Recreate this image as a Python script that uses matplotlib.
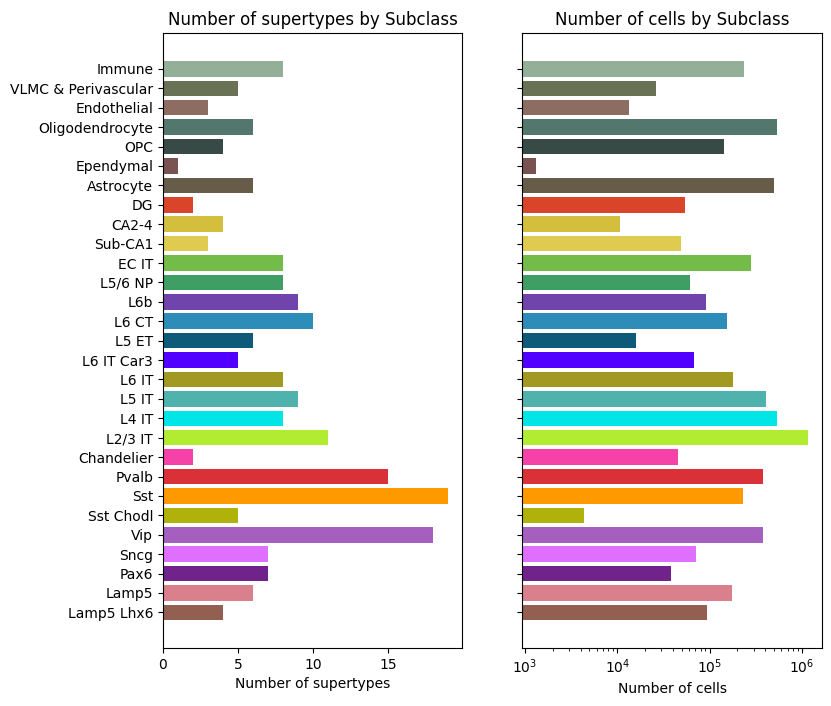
import matplotlib
matplotlib.use("Agg")
import matplotlib.pyplot as plt

categories = ["Immune", "VLMC & Perivascular", "Endothelial", "Oligodendrocyte", "OPC",
              "Ependymal", "Astrocyte", "DG", "CA2-4", "Sub-CA1", "EC IT", "L5/6 NP",
              "L6b", "L6 CT", "L5 ET", "L6 IT Car3", "L6 IT", "L5 IT", "L4 IT", "L2/3 IT",
              "Chandelier", "Pvalb", "Sst", "Sst Chodl", "Vip", "Sncg", "Pax6", "Lamp5",
              "Lamp5 Lhx6"]

n_supertypes = [8, 5, 3, 6, 4, 1, 6, 2, 4, 3, 8, 8, 9, 10, 6, 5, 8, 9, 8, 11,
                2, 15, 19, 5, 18, 7, 7, 6, 4]

n_cells = [237000, 26400, 13400, 541000, 144000, 1316, 501000, 54400, 10700, 49200,
           283000, 61600, 91900, 155000, 16000, 68000, 180000, 411000, 541000, 1173000,
           45600, 381000, 231000, 4360, 381000, 71600, 38300, 176000, 94200]

colors = ["#94AF97", "#697255", "#8D6C62", "#53776C", "#374A45", "#7B5252", "#665C47",
          "#DA442B", "#D4BE3E", "#DFCB50", "#73BC48", "#3E9E64", "#7044AA", "#2D8CB8",
          "#0D5B78", "#5100FF", "#A19922", "#50B2AD", "#00E5E5", "#B1EC30", "#F641A8",
          "#D93137", "#FF9900", "#B1B10C", "#A45FBF", "#DF70FF", "#71238C", "#DA808C",
          "#935F50"]

# plot bottom-to-top: reverse so first category appears at top
cats_r = categories[::-1]
sup_r = n_supertypes[::-1]
cells_r = n_cells[::-1]
cols_r = colors[::-1]

fig, (ax1, ax2) = plt.subplots(1, 2, figsize=(8.31, 7.06), dpi=100, sharey=True)
fig.subplots_adjust(left=0.196, right=0.989, top=0.953, bottom=0.082, wspace=0.2)

ax1.barh(cats_r, sup_r, color=cols_r)
ax1.set_title("Number of supertypes by Subclass")
ax1.set_xlabel("Number of supertypes")

ax2.barh(cats_r, cells_r, color=cols_r)
ax2.set_xscale("log")
ax2.set_title("Number of cells by Subclass")
ax2.set_xlabel("Number of cells")

fig.savefig("out.png", dpi=100)
